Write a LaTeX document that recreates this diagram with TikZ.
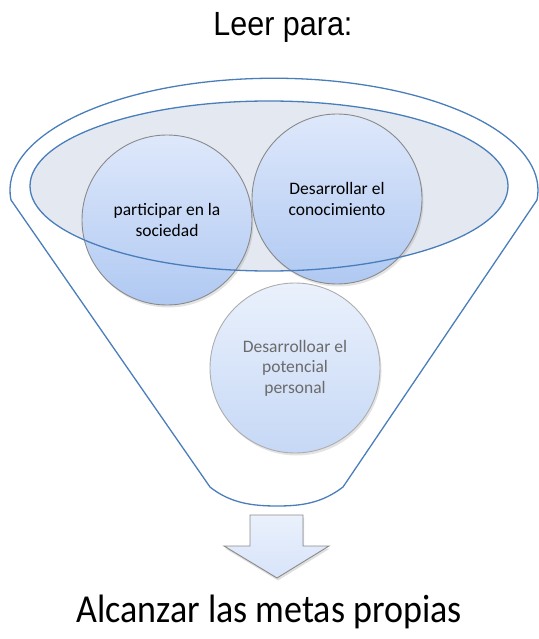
\documentclass[tikz,border=0pt]{standalone}
\usepackage{fontspec}
\setmainfont{Carlito}
\newfontfamily\arialfont{Liberation Sans}
\usetikzlibrary{shadows}
\definecolor{funnelblue}{HTML}{4A7EBB}
\definecolor{ellfill}{HTML}{E4E9F1}
\definecolor{ctop}{HTML}{DEE8FB}
\definecolor{cbot}{HTML}{B0C9F2}
\definecolor{ctopL}{HTML}{EAF1FC}
\definecolor{cbotL}{HTML}{C6D8F6}
\definecolor{cborder}{HTML}{8A8A8A}
\definecolor{txtgray}{HTML}{6B6B6B}
\tikzset{
  funnelline/.style={draw=funnelblue, line width=1.3pt},
  bubble/.style={circle, minimum size=170pt, inner sep=0pt, draw=cborder, line width=0.9pt,
     top color=ctop, bottom color=cbot, align=center,
     font=\fontsize{17.5}{20.5}\selectfont,
     drop shadow={opacity=0.22, shadow xshift=1.5pt, shadow yshift=-2.5pt}},
  bubblelight/.style={bubble, draw=cborder!70, top color=ctopL, bottom color=cbotL, text=txtgray},
  blockarrow/.style={draw=cborder, line width=0.9pt, top color=ctopL, bottom color=ctop!85!cbot,
     drop shadow={opacity=0.25, shadow xshift=1pt, shadow yshift=-2.5pt}}
}
\begin{document}
\begin{tikzpicture}[x=1pt, y=-1pt]
\useasboundingbox (0,0) rectangle (538,639);
% title
\node (title) at (283,27) {\arialfont\scalebox{1}[1.1]{\fontsize{30.5}{34}\selectfont Leer para:}};
% funnel outline
\draw[funnelline] (11,200) arc[start angle=175, end angle=365, x radius=264, y radius=112]
   -- (343,487) .. controls (322,503) and (302,506) .. (277,506)
   .. controls (252,506) and (230,503) .. (210,487) -- cycle;
% inner ellipse fill
\fill[ellfill] (269,186) ellipse[x radius=239, y radius=85];
% circles
\node[bubble] (c1) at (167,220) {participar en la\\sociedad};
\node[bubble] (c2) at (337,199) {Desarrollar el\\conocimiento};
\node[bubblelight] (c3) at (295,368) {Desarrolloar el\\potencial\\personal};
% inner ellipse outline on top
\draw[funnelline] (269,186) ellipse[x radius=239, y radius=85];
% block arrow
\path[blockarrow] (250,515) -- (303,515) -- (303,546) -- (329,546) -- (277,578)
   -- (224,546) -- (250,546) -- cycle;
% result
\node (goal) at (269,612) {\scalebox{1}[1.1]{\fontsize{36}{40}\selectfont Alcanzar las metas propias}};
\end{tikzpicture}
\end{document}
